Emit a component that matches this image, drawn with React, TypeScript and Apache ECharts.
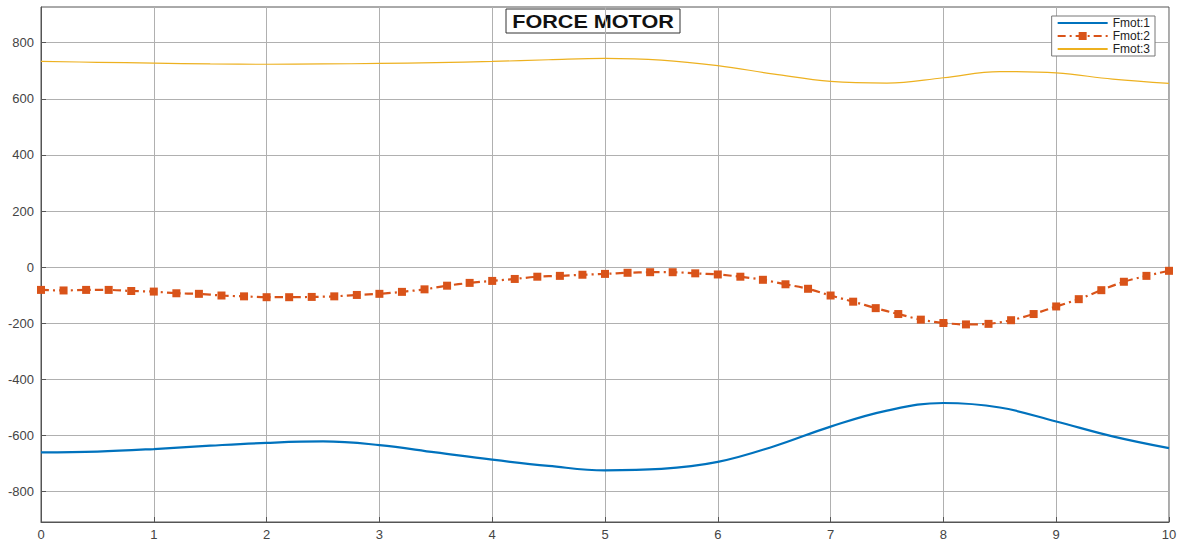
import React, { useEffect, useRef } from "react";
import * as echarts from "echarts";

const xFine: number[] = [
  0, 0.2, 0.4, 0.6, 0.8, 1, 1.2, 1.4, 1.6, 1.8, 2, 2.2, 2.4, 2.6, 2.8, 3, 3.2, 3.4, 3.6, 3.8,
  4, 4.2, 4.4, 4.6, 4.8, 5, 5.2, 5.4, 5.6, 5.8, 6, 6.2, 6.4, 6.6, 6.8, 7, 7.2, 7.4, 7.6, 7.8,
  8, 8.2, 8.4, 8.6, 8.8, 9, 9.2, 9.4, 9.6, 9.8, 10,
];
const xCoarse: number[] = [0, 0.5, 1, 1.5, 2, 2.5, 3, 3.5, 4, 4.5, 5, 5.5, 6, 6.5, 7, 7.5, 8, 8.5, 9, 9.5, 10];

const fmot1: number[] = [
  -660, -657, -648, -636, -626, -621, -634, -660, -686, -708, -724, -719, -694, -638, -568, -511,
  -484, -500, -550, -603, -645,
];
const fmot2: number[] = [
  -81, -83, -81, -81, -85, -87, -93, -95, -101, -104, -107, -107, -106, -104, -99, -95, -88, -79,
  -66, -56, -49, -42, -34, -31, -27, -24, -20, -18, -18, -22, -26, -34, -45, -61, -77, -101, -123,
  -146, -167, -187, -199, -204, -202, -189, -167, -140, -114, -82, -52, -31, -13,
];
const fmot3: number[] = [
  733, 730, 727, 724, 723, 724, 726, 729, 733, 739, 744, 738, 718, 688, 662, 656, 675, 697, 692,
  670, 655,
];

const yTicks: number[] = [-800, -600, -400, -200, 0, 200, 400, 600, 800];
const seriesNames: string[] = ["Fmot:1", "Fmot:2", "Fmot:3"];
const titleText = "FORCE MOTOR";

export default function App() {
  const ref = useRef<HTMLDivElement>(null);
  useEffect(() => {
    if (!ref.current) return;
    const chart = echarts.init(ref.current, null, { renderer: "svg" });
    const font = "Liberation Sans, Arial, sans-serif";
    const hiddenSymbol = { color: "rgba(0,0,0,0)", borderWidth: 0, opacity: 0 };
    chart.setOption({
      animation: false,
      backgroundColor: "#ffffff",
      grid: {
        left: 41,
        top: 7,
        right: 15,
        bottom: 18,
        show: true,
        borderColor: "#555555",
        borderWidth: 1,
        containLabel: false,
      },
      legend: {
        orient: "vertical",
        right: 29,
        top: 16,
        data: [
          { name: seriesNames[0], itemStyle: hiddenSymbol },
          { name: seriesNames[1] },
          { name: seriesNames[2], itemStyle: hiddenSymbol },
        ],
        backgroundColor: "#ffffff",
        borderColor: "#777777",
        borderWidth: 1,
        borderRadius: 0,
        padding: [1, 5, 1, 5],
        itemGap: 1,
        itemWidth: 50,
        itemHeight: 10,
        textStyle: { fontFamily: font, fontSize: 12, color: "#222" },
      },
      xAxis: {
        type: "value",
        min: 0,
        max: 10,
        interval: 1,
        axisLine: { show: true, onZero: false, lineStyle: { color: "#555555", width: 1 } },
        axisTick: { show: true, inside: true, length: 5, lineStyle: { color: "#555555" } },
        axisLabel: { fontFamily: font, fontSize: 13, color: "#444", margin: 6 },
        splitLine: { show: true, lineStyle: { color: "#b0b0b0", width: 1 } },
      },
      yAxis: {
        type: "value",
        min: -908,
        max: 927,
        axisLine: { show: true, onZero: false, lineStyle: { color: "#555555", width: 1 } },
        axisTick: {
          show: true,
          inside: true,
          length: 5,
          customValues: yTicks,
          lineStyle: { color: "#555555" },
        },
        axisLabel: {
          fontFamily: font,
          fontSize: 13,
          color: "#444",
          margin: 7,
          customValues: yTicks,
        },
        splitLine: { show: true, lineStyle: { color: "#b0b0b0", width: 1 } },
      },
      series: [
        {
          name: seriesNames[0],
          type: "line",
          smooth: 0.4,
          showSymbol: false,
          symbol: "none",
          data: xCoarse.map((x, i) => [x, fmot1[i]]),
          lineStyle: { color: "#0072BD", width: 2.2 },
          itemStyle: { color: "#0072BD" },
          z: 3,
        },
        {
          name: seriesNames[1],
          type: "line",
          smooth: 0.3,
          symbol: "rect",
          symbolSize: 8,
          data: xFine.map((x, i) => [x, fmot2[i]]),
          lineStyle: { color: "#D95319", width: 2.2, type: [8, 4, 2, 4] },
          itemStyle: { color: "#D95319" },
          z: 3,
        },
        {
          name: seriesNames[2],
          type: "line",
          smooth: 0.4,
          symbol: "none",
          data: xCoarse.map((x, i) => [x, fmot3[i]]),
          lineStyle: { color: "#EDB120", width: 1.2 },
          itemStyle: { color: "#EDB120" },
          z: 3,
        },
      ],
      graphic: [
        {
          type: "group",
          z: 100,
          children: [
            {
              type: "rect",
              shape: { x: 506, y: 9, width: 174, height: 24 },
              style: { fill: "#ffffff", stroke: "#333333", lineWidth: 1 },
            },
            {
              type: "text",
              x: 593,
              y: 21.5,
              scaleX: 1.2,
              style: {
                x: 0,
                y: 0,
                text: titleText,
                align: "center",
                verticalAlign: "middle",
                fontFamily: font,
                fontWeight: "bold",
                fontSize: 18,
                fill: "#111111",
              },
            },
          ],
        },
      ],
    });
    return () => chart.dispose();
  }, []);
  return (
    <div
      ref={ref}
      style={{ position: "fixed", left: 0, top: 0, width: 1184, height: 541 }}
    />
  );
}
